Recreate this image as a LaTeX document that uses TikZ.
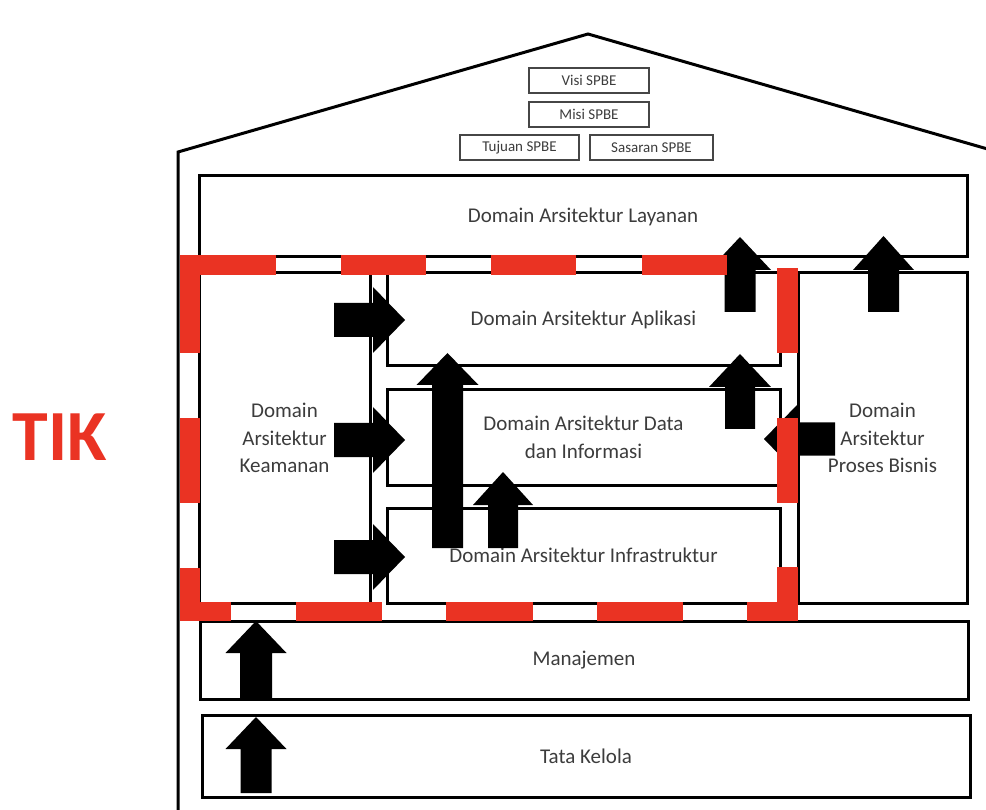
\documentclass[tikz,border=0pt]{standalone}
\usepackage{fontspec}
\setmainfont{Carlito}
\definecolor{inkgray}{RGB}{60,60,60}
\definecolor{framegray}{RGB}{70,70,70}
\definecolor{tikred}{RGB}{234,51,35}

% upward block arrow: centre x, tip y, head base y, tail y, half shaft, half head
\newcommand\UpBlk[6]{%
  \fill[blockfill] ({#1-#5},#4) -- ({#1-#5},#3) -- ({#1-#6},#3) -- (#1,#2)
    -- ({#1+#6},#3) -- ({#1+#5},#3) -- ({#1+#5},#4) -- cycle;}
% rightward block arrow from the security column: centre y
\newcommand\RightBlk[1]{%
  \fill[blockfill] (334,{#1-17}) -- (373,{#1-17}) -- (373,{#1-33}) -- (405,#1)
    -- (373,{#1+33}) -- (373,{#1+17}) -- (334,{#1+17}) -- cycle;}

\begin{document}
\begin{tikzpicture}[x=1pt,y=-1pt,
  housewall/.style={draw=black,line width=3pt,line join=miter},
  domainbox/.style={draw=black,line width=3pt,inner sep=0pt,text=inkgray,
    align=center,font=\fontsize{21}{27.5}\selectfont},
  goalbox/.style={draw=framegray,line width=1.8pt,inner sep=0pt,
    minimum height=25pt,text=inkgray,font=\fontsize{15}{18}\selectfont},
  blockfill/.style={fill=black},
  redband/.style={fill=tikred}]
\useasboundingbox (0,0) rectangle (986,810);

% house outline
\begin{scope}
  \clip (0,0) rectangle (986,810);
  \draw[housewall] (178,820) -- (178,152) -- (588,34) -- (998,152) -- (998,820);
\end{scope}

% vision, mission, goals
\node[goalbox,minimum width=120pt] (visi) at (589,80.5) {Visi SPBE};
\node[goalbox,minimum width=120pt] (misi) at (589,114.5) {Misi SPBE};
\node[goalbox,minimum width=119pt] (tujuan) at (519.5,147.5) {Tujuan SPBE};
\node[goalbox,minimum width=123pt] (sasaran) at (651.5,147.5) {Sasaran SPBE};

% architecture domains
\node[domainbox,minimum width=768pt,minimum height=81pt] (lay) at (583,216.5)
  {Domain Arsitektur Layanan};
\node[domainbox,minimum width=171pt,minimum height=330pt] (kea) at (284.5,438)
  {Domain\\Arsitektur\\Keamanan};
\node[domainbox,minimum width=393pt,minimum height=93pt] (apl) at (583.5,319.5)
  {Domain Arsitektur Aplikasi};
\node[domainbox,minimum width=393pt,minimum height=95pt] (dat) at (583.5,437.5)
  {Domain Arsitektur Data\\dan Informasi};
\node[domainbox,minimum width=393pt,minimum height=95pt] (inf) at (583.5,555.5)
  {Domain Arsitektur Infrastruktur};
\node[domainbox,minimum width=169pt,minimum height=330pt] (pro) at (882.5,438)
  {Domain\\Arsitektur\\Proses Bisnis};
\node[domainbox,minimum width=768pt,minimum height=78pt] (man) at (584,660)
  {Manajemen};
\node[domainbox,minimum width=768pt,minimum height=82pt] (tat) at (586,756)
  {Tata Kelola};

% side label
\node[text=tikred,font=\fontsize{72}{80}\bfseries\selectfont] (tik) at (60,437) {TIK};

% block arrows
\RightBlk{320}
\RightBlk{440}
\RightBlk{557}
\UpBlk{447.5}{353}{385}{548}{15.5}{31}
\UpBlk{503}{472}{505}{548}{15}{30}
\UpBlk{740}{354}{387}{429}{15}{31}
\UpBlk{740}{237}{270}{312}{15.5}{31}
\UpBlk{883.5}{236}{270}{312}{15.5}{30.5}
\UpBlk{256}{621}{653}{699}{16}{30.5}
\UpBlk{256}{717}{749}{793}{15.5}{30.5}
\fill[blockfill] (764,439) -- (797,405) -- (797,422.5) -- (835,422.5)
  -- (835,455.5) -- (797,455.5) -- (797,473) -- cycle;

% red dashed frame around the ICT domains
\fill[redband] (180,255) rectangle (276,275);
\fill[redband] (341,255) rectangle (426,275);
\fill[redband] (491,255) rectangle (576,275);
\fill[redband] (642,255) rectangle (727,275);
\fill[redband] (180,255) rectangle (200,353);
\fill[redband] (180,418) rectangle (200,503);
\fill[redband] (180,568) rectangle (200,621);
\fill[redband] (180,602) rectangle (231,621);
\fill[redband] (296,602) rectangle (382,621);
\fill[redband] (446,602) rectangle (533,621);
\fill[redband] (597,602) rectangle (683,621);
\fill[redband] (747,602) rectangle (798,621);
\fill[redband] (777,268) rectangle (798,353);
\fill[redband] (777,418) rectangle (798,503);
\fill[redband] (777,567) rectangle (798,621);
\end{tikzpicture}
\end{document}
